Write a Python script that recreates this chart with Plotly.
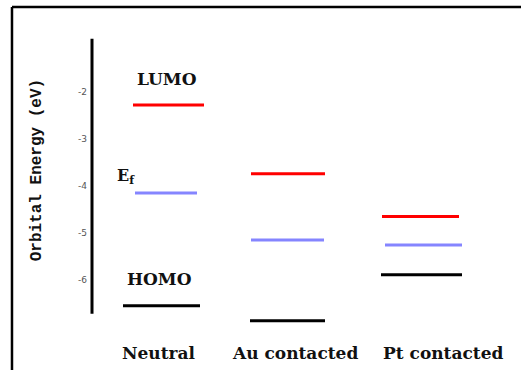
import plotly.graph_objects as go

# ---- data ----
categories = ["Neutral", "Au contacted", "Pt contacted"]
lumo = [-2.28, -3.74, -4.65]
fermi = [-4.15, -5.15, -5.26]
homo = [-6.55, -6.87, -5.89]
y_ticks = [-2, -3, -4, -5, -6]

# ---- style / layout ----
W, H = 521, 370
ML, MR, MT, MB = 92, 0, 12, 29
PX_PER_UNIT = 128.0
XMIN = -0.5547
XMAX = XMIN + (W - ML - MR) / PX_PER_UNIT
YRANGE = [-7.3, -0.3]
colors = {"lumo": "#ff0000", "fermi": "#8585ff", "homo": "#000000"}
widths = {"lumo": 3, "fermi": 3, "homo": 3}
# horizontal extents of each level (px, relative to category centre)
extents = {
    "lumo": [(-30, 41), (-40, 34), (-37, 40)],
    "fermi": [(-28, 34), (-40, 33), (-34, 43)],
    "homo": [(-40, 37), (-41, 34), (-38, 43)],
}
label_offsets = [-0.031, 0.031, 0.187]
serif = "DejaVu Serif"

fig = go.Figure()
for key, vals in (("lumo", lumo), ("fermi", fermi), ("homo", homo)):
    for i, v in enumerate(vals):
        a, b = extents[key][i]
        fig.add_trace(go.Scatter(
            x=[i + a / PX_PER_UNIT, i + b / PX_PER_UNIT], y=[v, v],
            mode="lines", line=dict(color=colors[key], width=widths[key]),
            showlegend=False, hoverinfo="skip"))

# level labels on the neutral column
fig.add_annotation(x=0.03, y=-1.72, text="<b>LUMO</b>", showarrow=False,
                   font=dict(family=serif, size=17, color="#111"))
fig.add_annotation(x=-0.29, y=-3.80, text="<b>E<sub>f</sub></b>", showarrow=False,
                   font=dict(family=serif, size=16, color="#111"))
fig.add_annotation(x=-0.025, y=-5.98, text="<b>HOMO</b>", showarrow=False,
                   font=dict(family=serif, size=17, color="#111"))

# category labels
for i, c in enumerate(categories):
    fig.add_annotation(x=i + label_offsets[i], y=-0.0735, yref="paper",
                       text="<b>" + c + "</b>", showarrow=False,
                       font=dict(family=serif, size=17, color="#111"))

# y axis title
fig.add_annotation(x=-0.153, xref="paper", y=-3.66, yref="y",
                   text="<b>Orbital Energy (eV)</b>", textangle=-90,
                   showarrow=False, font=dict(family="Liberation Mono", size=16, color="#111"))

# axis line
fig.add_shape(type="line", xref="paper", yref="y", x0=0, x1=0, y0=-0.87, y1=-6.72,
              line=dict(color="black", width=3))
# frame
fig.add_shape(type="line", xref="paper", yref="paper", x0=-0.1865, x1=1.0,
              y0=1.0152, y1=1.0152, line=dict(color="black", width=2.5))
fig.add_shape(type="line", xref="paper", yref="paper", x0=-0.1865, x1=-0.1865,
              y0=1.0152, y1=-0.1, line=dict(color="black", width=2.5))

fig.update_xaxes(range=[XMIN, XMAX], visible=False)
fig.update_yaxes(range=YRANGE, tickvals=y_ticks, ticktext=[str(t) for t in y_ticks],
                 showgrid=False, zeroline=False, showline=False, ticks="",
                 ticklabelstandoff=4,
                 tickfont=dict(family="DejaVu Sans", size=9, color="#555"))
fig.update_layout(width=W, height=H, margin=dict(l=ML, r=MR, t=MT, b=MB),
                  paper_bgcolor="white", plot_bgcolor="white")
fig.write_html("out.html")
